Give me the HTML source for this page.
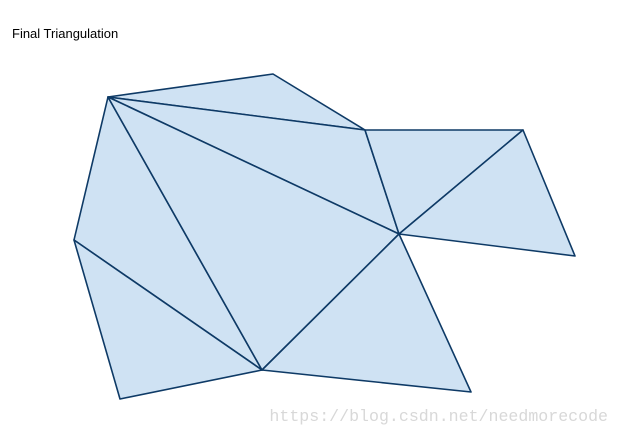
<!DOCTYPE html>
<html><head><meta charset="utf-8"><style>
body{margin:0;background:#fff;width:620px;height:436px;overflow:hidden;font-family:"Liberation Sans",sans-serif}
</style></head><body>
<svg width="620" height="436">
<text x="12" y="38" font-size="13" font-family="Liberation Sans, sans-serif" fill="#000">Final Triangulation</text>
<g id="tris"></g>
<text x="608" y="421" text-anchor="end" font-size="16.6" font-family="Liberation Mono, monospace" fill="#d8d8d8">https://blog.csdn.net/needmorecode</text>
</svg>
<script>
const vx=[108,273,365,523,575,399,74,262,120,471];
const vy=[97,74,130,130,256,234,240,370,399,392];
const triangles=[[0,1,2],[0,2,5],[2,3,5],[3,4,5],[0,6,7],[6,8,7],[0,7,5],[7,5,9]];
const g=document.getElementById('tris');
triangles.forEach((t,i)=>{
 const p=document.createElementNS('http://www.w3.org/2000/svg','polygon');
 p.setAttribute('points',t.map(k=>vx[k]+','+vy[k]).join(' '));
 p.setAttribute('fill','#cfe2f3');p.setAttribute('stroke','#0e3a66');
 p.setAttribute('stroke-width','1.6');p.setAttribute('stroke-linejoin','round');
 
 
 g.appendChild(p);
});
</script>
</body></html>
